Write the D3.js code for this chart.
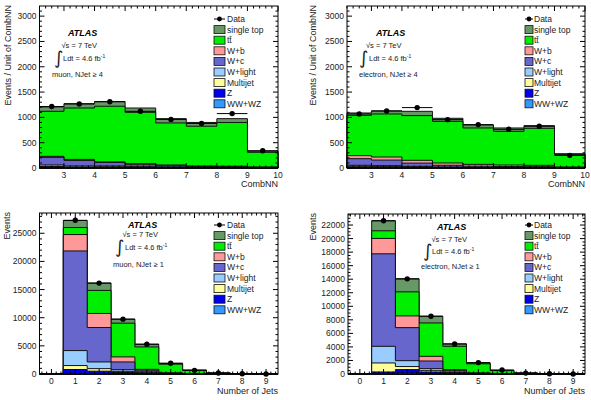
<!DOCTYPE html>
<html>
<head>
<meta charset="utf-8">
<script src="https://cdn.jsdelivr.net/npm/d3@7"></script>
<style>
  body { margin: 0; background: #fff; }
  svg { font-family: "Liberation Sans", Arial, Helvetica, sans-serif; }
</style>
</head>
<body>
<div id="chart"></div>
<script>
// process names, bottom of the stack first
const processes = ["WW+WZ", "Z", "Multijet", "W+light", "W+c", "W+b", "tt\u0304", "single top"];
const colors = ["#3399ff", "#0000ee", "#ffff99", "#99ccff", "#6666cc", "#ff9999", "#00ee00", "#669966"];

const combEdges = [2.2, 3, 4, 5, 6, 7, 8, 9, 10];
const combTicks = [3, 4, 5, 6, 7, 8, 9, 10];
const jetEdges = [-0.5, 0.5, 1.5, 2.5, 3.5, 4.5, 5.5, 6.5, 7.5, 8.5, 9.5];
const jetTicks = [0, 1, 2, 3, 4, 5, 6, 7, 8, 9];

// muon, CombNN (NJet >= 4)
const muCombWW = [10, 5, 5, 2, 2, 1, 1, 1];
const muCombZ = [10, 5, 5, 3, 2, 2, 2, 1];
const muCombMJ = [10, 10, 15, 10, 8, 5, 5, 3];
const muCombWl = [30, 20, 15, 10, 8, 5, 5, 3];
const muCombWc = [150, 110, 70, 40, 25, 15, 12, 6];
const muCombWb = [20, 20, 10, 20, 15, 12, 10, 6];
const muCombTT = [890, 1015, 1100, 1015, 830, 785, 865, 290];
const muCombST = [86, 85, 90, 85, 85, 75, 75, 25];
const muCombData = [1215, 1265, 1310, 1120, 960, 880, 1075, 340];

// electron, CombNN (NJet >= 4)
const elCombWW = [9, 5, 3, 2, 1, 1, 1, 0];
const elCombZ = [10, 7, 4, 2, 2, 1, 1, 1];
const elCombMJ = [15, 15, 10, 5, 4, 3, 3, 1];
const elCombWl = [20, 20, 15, 10, 8, 6, 6, 3];
const elCombWc = [130, 110, 65, 35, 22, 17, 15, 5];
const elCombWb = [60, 60, 55, 45, 35, 31, 27, 10];
const elCombTT = [797, 850, 883, 823, 719, 666, 731, 244];
const elCombST = [46, 60, 85, 60, 59, 66, 53, 19];
const elCombData = [1067, 1127, 1193, 955, 857, 764, 824, 250];

// muon, number of jets
const muJetWW = [0, 100, 100, 70, 50, 10, 3, 1, 0, 0];
const muJetZ = [0, 700, 400, 200, 100, 20, 5, 1, 0, 0];
const muJetMJ = [0, 700, 450, 200, 80, 20, 5, 1, 0, 0];
const muJetWl = [0, 2660, 1190, 300, 150, 40, 10, 2, 0, 0];
const muJetWc = [0, 17700, 6120, 1370, 300, 80, 20, 5, 1, 0];
const muJetWb = [0, 2910, 2490, 900, 150, 30, 10, 2, 1, 0];
const muJetTT = [0, 1250, 4100, 5990, 3980, 1550, 600, 150, 35, 8];
const muJetST = [0, 1250, 1300, 710, 475, 150, 50, 15, 3, 1];
const muJetData = [0, 27300, 16150, 9740, 5290, 1900, 650, 180, 50, 10];

// electron, number of jets
const elJetWW = [0, 100, 150, 90, 20, 10, 3, 1, 0, 0];
const elJetZ = [0, 200, 500, 200, 50, 15, 5, 1, 0, 0];
const elJetMJ = [0, 1330, 450, 200, 50, 20, 5, 1, 0, 0];
const elJetWl = [0, 2460, 870, 300, 120, 30, 10, 2, 0, 0];
const elJetWc = [0, 13660, 4880, 1130, 250, 55, 20, 5, 1, 0];
const elJetWb = [0, 2270, 1730, 690, 150, 30, 7, 2, 1, 0];
const elJetTT = [0, 1130, 3550, 4930, 3450, 1350, 450, 120, 25, 7];
const elJetST = [0, 1480, 1920, 990, 350, 120, 40, 15, 3, 1];
const elJetData = [0, 22630, 14050, 8530, 4440, 1680, 590, 130, 30, 10];

const svg = d3.select("#chart").append("svg")
    .attr("width", 591).attr("height", 400);

const panels = [
    {
        frame: {l: 39.5, r: 278, t: 6, b: 168}, edges: combEdges, ticks: combTicks, minor: 0.2,
        yMax: 3200, yMajor: 500, yMinor: 100,
        stack: [muCombWW, muCombZ, muCombMJ, muCombWl, muCombWc, muCombWb, muCombTT, muCombST], data: muCombData,
        xTitle: "CombNN", yTitle: "Events / Unit of CombNN", yTitleX: 11, xTitleY: 187,
        leg: {x: 214, w: 11, y: 19, text: 227},
        atlas: {x: 68, y: 36}, sqrt: {x: 61.5, y: 47.5}, integ: {x: 54, y: 64}, ldt: {x: 63, y: 61},
        chan: {x: 52, y: 77, t: "muon, NJet \u2265 4"}
    },
    {
        frame: {l: 347, r: 585, t: 6, b: 168}, edges: combEdges, ticks: combTicks, minor: 0.2,
        yMax: 3200, yMajor: 500, yMinor: 100,
        stack: [elCombWW, elCombZ, elCombMJ, elCombWl, elCombWc, elCombWb, elCombTT, elCombST], data: elCombData,
        xTitle: "CombNN", yTitle: "Events / Unit of CombNN", yTitleX: 316, xTitleY: 187,
        leg: {x: 525, w: 8, y: 19, text: 534},
        atlas: {x: 376, y: 36}, sqrt: {x: 366, y: 47.5}, integ: {x: 359, y: 64}, ldt: {x: 369, y: 61},
        chan: {x: 359, y: 77, t: "electron, NJet \u2265 4"}
    },
    {
        frame: {l: 39.5, r: 278, t: 213, b: 374}, edges: jetEdges, ticks: jetTicks, minor: 0.2,
        yMax: 28600, yMajor: 5000, yMinor: 1000,
        stack: [muJetWW, muJetZ, muJetMJ, muJetWl, muJetWc, muJetWb, muJetTT, muJetST], data: muJetData,
        xTitle: "Number of Jets", yTitle: "Events", yTitleX: 10, xTitleY: 394,
        leg: {x: 214, w: 11, y: 225, text: 227},
        atlas: {x: 128, y: 227.5}, sqrt: {x: 122.5, y: 236.5}, integ: {x: 115, y: 253}, ldt: {x: 125, y: 250},
        chan: {x: 113, y: 266.5, t: "muon, NJet \u2265 1"}
    },
    {
        frame: {l: 348, r: 585, t: 214, b: 374}, edges: jetEdges, ticks: jetTicks, minor: 0.2,
        yMax: 23630, yMajor: 2000, yMinor: 500,
        stack: [elJetWW, elJetZ, elJetMJ, elJetWl, elJetWc, elJetWb, elJetTT, elJetST], data: elJetData,
        xTitle: "Number of Jets", yTitle: "Events", yTitleX: 316, xTitleY: 394,
        leg: {x: 525, w: 8, y: 225, text: 534},
        atlas: {x: 437, y: 230}, sqrt: {x: 431.5, y: 241.5}, integ: {x: 423, y: 257}, ldt: {x: 432, y: 254},
        chan: {x: 421, y: 269, t: "electron, NJet \u2265 1"}
    }
];

let drawPanel = function (p) {
    const f = p.frame;
    const x = d3.scaleLinear().domain([p.edges[0], p.edges[p.edges.length - 1]]).range([f.l, f.r]);
    const y = d3.scaleLinear().domain([0, p.yMax]).range([f.b, f.t]);
    const g = svg.append("g");
    const nb = p.edges.length - 1;

    // cumulative stack
    let cum = p.stack[0].map(() => 0);
    const cums = p.stack.map(s => (cum = cum.map((c, i) => c + s[i])));

    const area = d3.area()
        .x(d => x(d.x))
        .y0(y(0))
        .y1(d => y(d.v))
        .curve(d3.curveStepAfter);

    for (let k = cums.length - 1; k >= 0; k--) {
        const pts = p.edges.map((e, i) => ({x: e, v: cums[k][Math.min(i, nb - 1)]}));
        g.append("path").datum(pts)
            .attr("d", area)
            .attr("fill", colors[k])
            .attr("stroke", "#111")
            .attr("stroke-width", 1);
    }

    // data points with bin-width error bars
    p.data.forEach((v, i) => {
        if (v <= 0) return;
        g.append("line")
            .attr("x1", x(p.edges[i])).attr("x2", x(p.edges[i + 1]))
            .attr("y1", y(v)).attr("y2", y(v))
            .attr("stroke", "#000").attr("stroke-width", 1);
        g.append("circle")
            .attr("cx", x((p.edges[i] + p.edges[i + 1]) / 2)).attr("cy", y(v))
            .attr("r", 2.7).attr("fill", "#000");
    });

    // frame
    g.append("rect")
        .attr("x", f.l).attr("y", f.t)
        .attr("width", f.r - f.l).attr("height", f.b - f.t)
        .attr("fill", "none").attr("stroke", "#000").attr("stroke-width", 1);

    // ticks inside frame on all sides
    const xMinor = d3.range(Math.ceil(p.edges[0] / p.minor) * p.minor, p.edges[nb] + 1e-9, p.minor);
    const yMinor = d3.range(0, p.yMax, p.yMinor);
    const yMajor = d3.range(0, p.yMax, p.yMajor);
    const tk = g.append("g").attr("stroke", "#000").attr("stroke-width", 1);
    xMinor.forEach(v => {
        const isMaj = p.ticks.some(t => Math.abs(t - v) < 1e-6);
        const len = isMaj ? 5 : 2.5;
        tk.append("line").attr("x1", x(v)).attr("x2", x(v)).attr("y1", f.b).attr("y2", f.b - len);
        tk.append("line").attr("x1", x(v)).attr("x2", x(v)).attr("y1", f.t).attr("y2", f.t + len);
    });
    yMinor.forEach(v => {
        const isMaj = yMajor.some(t => Math.abs(t - v) < 1e-6);
        const len = isMaj ? 5 : 2.5;
        tk.append("line").attr("y1", y(v)).attr("y2", y(v)).attr("x1", f.l).attr("x2", f.l + len);
        tk.append("line").attr("y1", y(v)).attr("y2", y(v)).attr("x1", f.r).attr("x2", f.r - len);
    });

    // tick labels
    g.selectAll(".xl").data(p.ticks).enter().append("text")
        .attr("x", d => x(d)).attr("y", f.b + 10)
        .attr("text-anchor", "middle").attr("font-size", 8.5).attr("fill", "#222")
        .text(d => d);
    g.selectAll(".yl").data(yMajor).enter().append("text")
        .attr("x", f.l - 3).attr("y", d => y(d) + 3)
        .attr("text-anchor", "end").attr("font-size", 8.5).attr("fill", "#222")
        .text(d => d);

    // axis titles
    g.append("text")
        .attr("x", f.r).attr("y", p.xTitleY)
        .attr("text-anchor", "end").attr("font-size", 9).attr("fill", "#222")
        .text(p.xTitle);
    g.append("text")
        .attr("transform", `translate(${p.yTitleX},${f.t - 1}) rotate(-90)`)
        .attr("text-anchor", "end").attr("font-size", 9).attr("fill", "#222")
        .text(p.yTitle);

    // ATLAS label block
    g.append("text").attr("x", p.atlas.x).attr("y", p.atlas.y)
        .attr("font-size", 9).attr("font-weight", "bold").attr("font-style", "italic")
        .text("ATLAS");
    g.append("text").attr("x", p.sqrt.x).attr("y", p.sqrt.y)
        .attr("font-size", 7.5).attr("fill", "#222")
        .text("\u221As = 7 TeV");
    g.append("text").attr("x", p.integ.x).attr("y", p.integ.y)
        .attr("font-size", 18).attr("font-family", "DejaVu Sans").attr("fill", "#222")
        .text("\u222B");
    const ldt = g.append("text").attr("x", p.ldt.x).attr("y", p.ldt.y)
        .attr("font-size", 7.5).attr("fill", "#222");
    ldt.append("tspan").text("Ldt = 4.6 fb");
    ldt.append("tspan").attr("dy", -3.5).attr("font-size", 5).text("-1");
    g.append("text").attr("x", p.chan.x).attr("y", p.chan.y)
        .attr("font-size", 7.5).attr("fill", "#222")
        .text(p.chan.t);

    // legend
    const L = p.leg, rowH = 10.6;
    const lg = g.append("g");
    lg.append("line")
        .attr("x1", L.x).attr("x2", L.x + L.w).attr("y1", L.y).attr("y2", L.y)
        .attr("stroke", "#000");
    lg.append("circle").attr("cx", L.x + L.w / 2).attr("cy", L.y).attr("r", 2.4).attr("fill", "#000");
    lg.append("text").attr("x", L.text).attr("y", L.y + 3)
        .attr("font-size", 8.5).attr("fill", "#222").text("Data");
    processes.slice().reverse().forEach((name, i) => {
        const k = processes.length - 1 - i;
        const cy = L.y + rowH * (i + 1);
        lg.append("rect")
            .attr("x", L.x).attr("y", cy - 4).attr("width", L.w).attr("height", 8)
            .attr("fill", colors[k]).attr("stroke", "#111").attr("stroke-width", 0.8);
        lg.append("text").attr("x", L.text).attr("y", cy + 3)
            .attr("font-size", 8.5).attr("fill", "#222").text(name);
    });
};

panels.forEach(drawPanel);
</script>
</body>
</html>
